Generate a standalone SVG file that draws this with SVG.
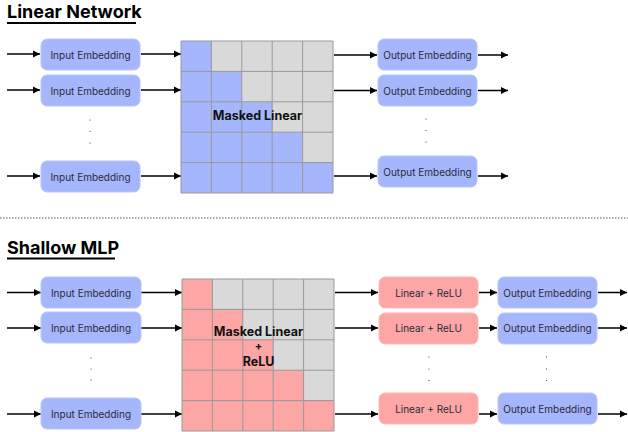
<svg xmlns="http://www.w3.org/2000/svg" width="628" height="432" viewBox="0 0 628 432">
<defs>
<marker id="ah" markerWidth="8" markerHeight="8" refX="7" refY="4" orient="auto" markerUnits="userSpaceOnUse">
<path d="M0,0.5 L7,4 L0,7.5 Z" fill="#000"/>
</marker>
<style>
.title{font-family:Inter,"Liberation Sans",sans-serif;font-weight:700;font-size:18px;fill:#000}
.ul{stroke:#000;stroke-width:2}
.blue{fill:#a6b6fc;stroke:#b8c5fc;stroke-width:1}
.red{fill:#fca6a6;stroke:#fdb8b8;stroke-width:1}
.lbl{font-family:Inter,"Liberation Sans",sans-serif;font-size:10px;fill:#2a2a3a;text-anchor:middle;dominant-baseline:central}
.mlbl{font-family:Inter,"Liberation Sans",sans-serif;font-size:12.5px;font-weight:700;fill:#111;text-anchor:middle;dominant-baseline:central}
.cb{fill:#a6b6fc}
.cr{fill:#fca6a6}
.cg{fill:#d9d9d9}
.grid{stroke:#999;stroke-width:1;fill:none}
.arr{stroke:#000;stroke-width:1.5;fill:none;marker-end:url(#ah)}
.dot{fill:#333}
</style>
</defs>

<text class="title" x="7" y="18">Linear Network</text>
<line class="ul" x1="7" y1="23" x2="136" y2="23"/>
<text class="title" x="7" y="254">Shallow MLP</text>
<line class="ul" x1="7" y1="258.5" x2="115" y2="258.5"/>

<line x1="0" y1="218" x2="628" y2="218" stroke="#555" stroke-width="1" stroke-dasharray="1.5,1.5"/>

<g id="connectors">
<line class="arr" x1="7" y1="54" x2="40" y2="54"/>
<line class="arr" x1="7" y1="90" x2="40" y2="90"/>
<line class="arr" x1="7" y1="176" x2="40" y2="176"/>
<line class="arr" x1="141" y1="54" x2="181" y2="54"/>
<line class="arr" x1="141" y1="90" x2="181" y2="90"/>
<line class="arr" x1="141" y1="176" x2="181" y2="176"/>
<line class="arr" x1="334" y1="55" x2="377" y2="55"/>
<line class="arr" x1="334" y1="90.5" x2="377" y2="90.5"/>
<line class="arr" x1="334" y1="176" x2="377" y2="176"/>
<line class="arr" x1="478" y1="55" x2="508" y2="55"/>
<line class="arr" x1="478" y1="90.5" x2="508" y2="90.5"/>
<line class="arr" x1="478" y1="176" x2="508" y2="176"/>

<line class="arr" x1="7" y1="292.5" x2="41" y2="292.5"/>
<line class="arr" x1="7" y1="328" x2="41" y2="328"/>
<line class="arr" x1="7" y1="414" x2="41" y2="414"/>
<line class="arr" x1="141" y1="292.5" x2="182" y2="292.5"/>
<line class="arr" x1="141" y1="328" x2="182" y2="328"/>
<line class="arr" x1="141" y1="414" x2="182" y2="414"/>
<line class="arr" x1="335" y1="292.5" x2="378" y2="292.5"/>
<line class="arr" x1="335" y1="328" x2="378" y2="328"/>
<line class="arr" x1="335" y1="414" x2="378" y2="414"/>
<line class="arr" x1="479" y1="292.5" x2="497" y2="292.5"/>
<line class="arr" x1="479" y1="328" x2="497" y2="328"/>
<line class="arr" x1="479" y1="414" x2="497" y2="414"/>
<line class="arr" x1="598" y1="292.5" x2="627" y2="292.5"/>
<line class="arr" x1="598" y1="328" x2="627" y2="328"/>
<line class="arr" x1="598" y1="414" x2="627" y2="414"/>
</g>

<g id="in1"><rect class="blue" x="41" y="39" width="99" height="31" rx="6"/><text class="lbl" x="90.5" y="54.5">Input Embedding</text></g>
<g id="in2"><rect class="blue" x="41" y="75" width="99" height="31" rx="6"/><text class="lbl" x="90.5" y="90.5">Input Embedding</text></g>
<g id="in3"><rect class="blue" x="41" y="161" width="99" height="31" rx="6"/><text class="lbl" x="90.5" y="176.5">Input Embedding</text></g>

<g id="out1"><rect class="blue" x="378" y="39" width="99" height="31" rx="6"/><text class="lbl" x="427.5" y="54.5">Output Embedding</text></g>
<g id="out2"><rect class="blue" x="378" y="75" width="99" height="31" rx="6"/><text class="lbl" x="427.5" y="90.5">Output Embedding</text></g>
<g id="out3"><rect class="blue" x="378" y="156" width="99" height="31" rx="6"/><text class="lbl" x="427.5" y="171.5">Output Embedding</text></g>

<g id="dots1" class="dot">
<circle cx="90" cy="120" r="0.6"/><circle cx="90" cy="131.5" r="0.6"/><circle cx="90" cy="143" r="0.6"/>
<circle cx="426" cy="119" r="0.6"/><circle cx="426" cy="130.5" r="0.6"/><circle cx="426" cy="142" r="0.6"/>
</g>

<g id="matrix1">
<rect class="cg" x="181" y="41" width="152" height="152"/>
<path class="cb" d="M181,41 H211.4 V71.4 H241.8 V101.8 H272.2 V132.2 H302.6 V162.6 H333 V193 H181 Z"/>
<path class="grid" d="M181,41 H333 V193 H181 Z M211.4,41 V193 M241.8,41 V193 M272.2,41 V193 M302.6,41 V193 M181,71.4 H333 M181,101.8 H333 M181,132.2 H333 M181,162.6 H333"/>
<text class="mlbl" x="257.5" y="115">Masked Linear</text>
</g>

<g id="in4"><rect class="blue" x="41" y="277" width="100" height="31" rx="6"/><text class="lbl" x="91" y="292.5">Input Embedding</text></g>
<g id="in5"><rect class="blue" x="41" y="312" width="100" height="31" rx="6"/><text class="lbl" x="91" y="327.5">Input Embedding</text></g>
<g id="in6"><rect class="blue" x="41" y="398" width="100" height="31" rx="6"/><text class="lbl" x="91" y="413.5">Input Embedding</text></g>

<g id="lr1"><rect class="red" x="379" y="277" width="99" height="31" rx="6"/><text class="lbl" x="428.5" y="292.5">Linear + ReLU</text></g>
<g id="lr2"><rect class="red" x="379" y="313" width="99" height="31" rx="6"/><text class="lbl" x="428.5" y="328">Linear + ReLU</text></g>
<g id="lr3"><rect class="red" x="379" y="393" width="99" height="31" rx="6"/><text class="lbl" x="428.5" y="409">Linear + ReLU</text></g>

<g id="out4"><rect class="blue" x="498" y="277" width="99" height="31" rx="6"/><text class="lbl" x="547.5" y="292.5">Output Embedding</text></g>
<g id="out5"><rect class="blue" x="498" y="313" width="99" height="31" rx="6"/><text class="lbl" x="547.5" y="328">Output Embedding</text></g>
<g id="out6"><rect class="blue" x="498" y="393" width="99" height="31" rx="6"/><text class="lbl" x="547.5" y="409">Output Embedding</text></g>

<g id="dots2" class="dot">
<circle cx="91" cy="358" r="0.6"/><circle cx="91" cy="369" r="0.6"/><circle cx="91" cy="380" r="0.6"/>
<circle cx="429" cy="357" r="0.6"/><circle cx="429" cy="369" r="0.6"/><circle cx="429" cy="380.5" r="0.6"/>
<circle cx="546.5" cy="357" r="0.6"/><circle cx="546.5" cy="369" r="0.6"/><circle cx="546.5" cy="380.5" r="0.6"/>
</g>

<g id="matrix2">
<rect class="cg" x="182" y="279" width="152" height="152"/>
<path class="cr" d="M182,279 H212.4 V309.4 H242.8 V339.8 H273.2 V370.2 H303.6 V400.6 H334 V431 H182 Z"/>
<path class="grid" d="M182,279 H334 V431 H182 Z M212.4,279 V431 M242.8,279 V431 M273.2,279 V431 M303.6,279 V431 M182,309.4 H334 M182,339.8 H334 M182,370.2 H334 M182,400.6 H334"/>
<text class="mlbl" x="258.5" y="331">Masked Linear</text>
<text class="mlbl" x="258.5" y="346" style="font-size:11px">+</text>
<text class="mlbl" x="258.5" y="361">ReLU</text>
</g>
</svg>
